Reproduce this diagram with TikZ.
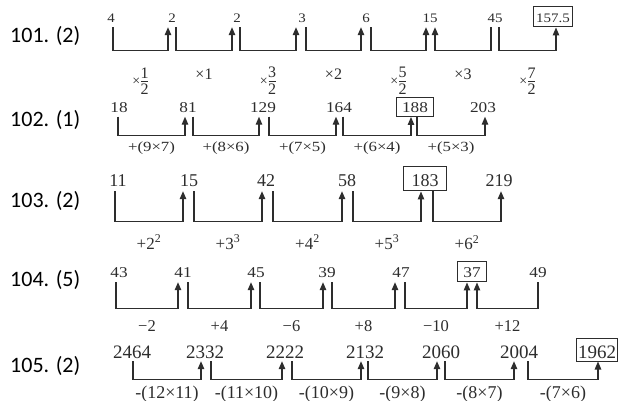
\documentclass[tikz,border=0pt]{standalone}
\usepackage{fontspec}
\usetikzlibrary{arrows.meta}
\newfontfamily\nfA{Liberation Serif}
\newfontfamily\nfB[FakeStretch=1.15]{Liberation Serif}
\newfontfamily\nfC[FakeStretch=1.2]{Liberation Serif}
\newfontfamily\lbf{Carlito}
\definecolor{ink}{RGB}{45,45,45}
\newcommand\brk[7][]{\draw[br,fwd,#1] ([xshift=#4pt]#2.south) -- ++(0,#6) -| ([xshift=#5pt]#3.south) node[pos=0.25,lab] {#7};}
\newcommand\fr[2]{\raisebox{-6pt}{{\fontsize{14}{16}\selectfont ×}\kern0.5pt$\vcenter{\offinterlineskip\halign{\hfil##\hfil\cr
  \vrule height 11pt depth 0pt width 0pt #1\cr\noalign{\kern2.5pt}
  \vrule height 0.7pt depth 0pt width 7pt\cr\noalign{\kern2.5pt}
  \vrule height 11pt depth 0pt width 0pt #2\cr}}$}}
\tikzset{
  numnode/.style={anchor=base, inner xsep=1pt, text depth=0pt, text=ink},
  boxed/.style={draw=ink, line width=1pt},
  br/.style={draw=ink, line width=1.2pt},
  fwd/.style={-{Triangle[width=6.5pt,length=8pt]}},
  rev/.style={{Triangle[width=6.5pt,length=8pt]}-},
  rowlabel/.style={anchor=base west, inner sep=0pt, font=\lbf\fontsize{22}{24}\selectfont, text=black}
}
\begin{document}
\begin{tikzpicture}[x=1pt,y=-1pt]
\useasboundingbox (0,0) rectangle (622,401);
\fill[white] (0,0) rectangle (622,401);

% row labels
\node[rowlabel] (l1) at (10,43) {101. (2)};
\node[rowlabel] (l2) at (10,127) {102. (1)};
\node[rowlabel] (l3) at (10,208) {103. (2)};
\node[rowlabel] (l4) at (10,287) {104. (5)};
\node[rowlabel] (l5) at (10,372) {105. (2)};

% 101
\begin{scope}[rw/.style={numnode, font=\nfB\fontsize{13}{15}\selectfont, text height=12pt, inner ysep=4pt},
  lab/.style={anchor=base, yshift=-29pt, font=\nfA\fontsize{16}{18}\selectfont, text=ink}]
\node[rw] (a1) at (111,23) {4};
\node[rw] (a2) at (172,23) {2};
\node[rw] (a3) at (237,23) {2};
\node[rw] (a4) at (302,23) {3};
\node[rw] (a5) at (366,23) {6};
\node[rw] (a6) at (430,23) {15};
\node[rw] (a7) at (495,23) {45};
\node[rw,boxed,inner xsep=3pt] (a8) at (553,23) {157.5};
\brk{a1}{a2}{2}{-4}{23}{\fr{1}{2}}
\brk{a2}{a3}{4}{-5}{23}{×1}
\brk{a3}{a4}{3}{-6}{23}{\fr{3}{2}}
\brk{a4}{a5}{4}{-5}{23}{×2}
\brk{a5}{a6}{5}{-4}{23}{\fr{5}{2}}
\brk[rev]{a6}{a7}{5}{-4}{23}{×3}
\brk{a7}{a8}{4}{3}{23}{\fr{7}{2}}
\end{scope}

% 102
\begin{scope}[rw/.style={numnode, font=\nfB\fontsize{15}{17}\selectfont, text height=11.5pt, inner ysep=3.5pt},
  lab/.style={anchor=base, yshift=-16pt, font=\nfC\fontsize{14}{16}\selectfont, text=ink}]
\node[rw] (b1) at (119,113) {18};
\node[rw] (b2) at (188,113) {81};
\node[rw] (b3) at (263,113) {129};
\node[rw] (b4) at (339,113) {164};
\node[rw,boxed,inner xsep=5.5pt] (b5) at (415,113) {188};
\node[rw] (b6) at (483,113) {203};
\brk{b1}{b2}{-1}{-3}{18.5}{+(9×7)}
\brk{b2}{b3}{5}{-4}{18.5}{+(8×6)}
\brk{b3}{b4}{6}{-3}{18.5}{+(7×5)}
\brk{b4}{b5}{4}{-4}{18.5}{+(6×4)}
\brk{b5}{b6}{2}{2}{18.5}{+(5×3)}
\end{scope}

% 103
\begin{scope}[rw/.style={numnode, font=\nfA\fontsize{18}{20}\selectfont, text height=16pt, inner ysep=4pt},
  lab/.style={anchor=base, yshift=-28pt, font=\nfA\fontsize{17}{19}\selectfont, text=ink}]
\node[rw] (c1) at (118,187) {11};
\node[rw] (c2) at (189,187) {15};
\node[rw] (c3) at (266,187) {42};
\node[rw] (c4) at (347,187) {58};
\node[rw,boxed,inner xsep=8pt] (c5) at (425,187) {183};
\node[rw] (c6) at (499,187) {219};
\brk{c1}{c2}{-3}{-6}{30}{+2\textsuperscript{2}}
\brk{c2}{c3}{5}{-4}{30}{+3\textsuperscript{3}}
\brk{c3}{c4}{7}{-5}{30}{+4\textsuperscript{2}}
\brk{c4}{c5}{6}{-4}{30}{+5\textsuperscript{3}}
\brk{c5}{c6}{8}{2}{30}{+6\textsuperscript{2}}
\end{scope}

% 104
\begin{scope}[rw/.style={numnode, font=\nfB\fontsize{15}{17}\selectfont, text height=12pt, inner ysep=4pt},
  lab/.style={anchor=base, yshift=-23pt, font=\nfA\fontsize{16.5}{18}\selectfont, text=ink}]
\node[rw] (d1) at (119,278) {43};
\node[rw] (d2) at (183,278) {41};
\node[rw] (d3) at (256,278) {45};
\node[rw] (d4) at (327,278) {39};
\node[rw] (d5) at (401,278) {47};
\node[rw,boxed,inner xsep=6pt] (d6) at (472,278) {37};
\node[rw] (d7) at (538,278) {49};
\brk{d1}{d2}{-3}{-5}{26}{−2}
\brk{d2}{d3}{5}{-5}{26}{+4}
\brk{d3}{d4}{4}{-4}{26}{−6}
\brk{d4}{d5}{5}{-6}{26}{+8}
\brk{d5}{d6}{4}{-5}{26}{−10}
\brk[rev]{d6}{d7}{5}{0}{26}{+12}
\end{scope}

% 105
\begin{scope}[rw/.style={numnode, font=\nfA\fontsize{19}{21}\selectfont, text height=17pt, inner ysep=3pt},
  lab/.style={anchor=base, yshift=-19pt, font=\nfA\fontsize{18}{20}\selectfont, text=ink}]
\node[rw] (e1) at (132,358) {2464};
\node[rw] (e2) at (205,358) {2332};
\node[rw] (e3) at (285,358) {2222};
\node[rw] (e4) at (365,358) {2132};
\node[rw] (e5) at (441,358) {2060};
\node[rw] (e6) at (519,358) {2004};
\node[rw,boxed,inner xsep=1.5pt] (e7) at (597,358) {1962};
\brk{e1}{e2}{1}{-4}{18}{-(12×11)}
\brk{e2}{e3}{6}{-3}{18}{-(11×10)}
\brk{e3}{e4}{7}{-4}{18}{-(10×9)}
\brk{e4}{e5}{3}{-4}{18}{-(9×8)}
\brk{e5}{e6}{4}{-5}{18}{-(8×7)}
\brk{e6}{e7}{9}{1}{18}{-(7×6)}
\end{scope}
\end{tikzpicture}
\end{document}
